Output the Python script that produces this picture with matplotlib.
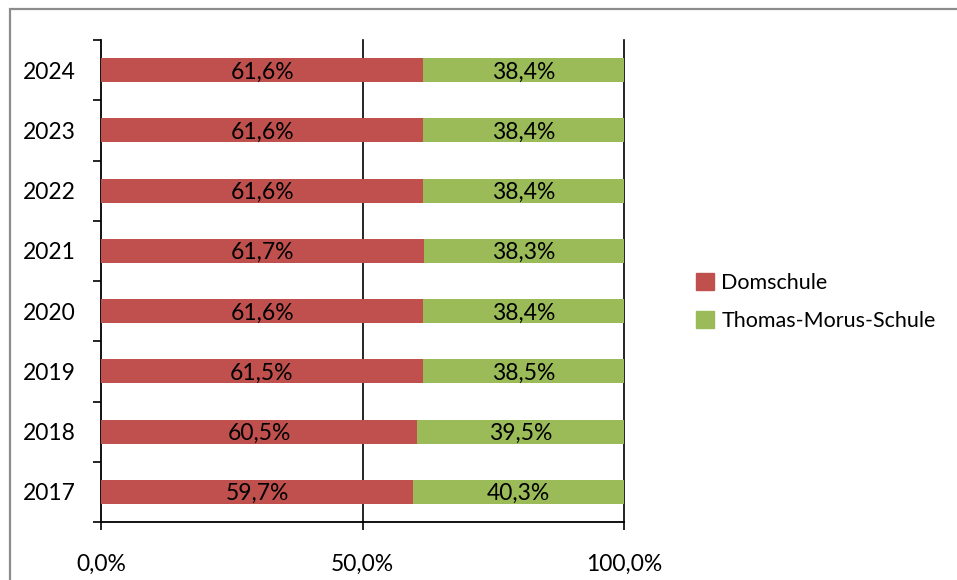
import matplotlib
matplotlib.use("Agg")
import matplotlib.pyplot as plt
from matplotlib.patches import Rectangle, Patch
import numpy as np

years = ["2017", "2018", "2019", "2020", "2021", "2022", "2023", "2024"]
domschule = [59.7, 60.5, 61.5, 61.6, 61.7, 61.6, 61.6, 61.6]
thomas = [40.3, 39.5, 38.5, 38.4, 38.3, 38.4, 38.4, 38.4]
series_names = ["Domschule", "Thomas-Morus-Schule"]
x_ticks = [0, 50, 100]
x_labels = ["0,0%", "50,0%", "100,0%"]

RED = "#C0504D"
GREEN = "#9BBB59"
plt.rcParams['font.family'] = ['Lato', 'DejaVu Sans']

fig = plt.figure(figsize=(9.57, 5.8), dpi=100)
ax = fig.add_axes([101/957, 1-522/580, (624-101)/957, (522-40)/580])

y = np.arange(len(years))
h = 0.4
ax.barh(y, domschule, height=h, color=RED, zorder=3)
ax.barh(y, thomas, left=domschule, height=h, color=GREEN, zorder=3)

fs = 16.5
for i in range(len(years)):
    ax.text(domschule[i]/2, y[i] - 0.03, f"{domschule[i]:.1f}%".replace(".", ","),
            ha="center", va="center", fontsize=fs, zorder=4)
    ax.text(domschule[i] + thomas[i]/2, y[i] - 0.03, f"{thomas[i]:.1f}%".replace(".", ","),
            ha="center", va="center", fontsize=fs, zorder=4)

ax.set_xlim(0, 100)
ax.set_ylim(-0.5, len(years)-0.5)
ax.set_xticks(x_ticks)
ax.set_xticklabels(x_labels, fontsize=fs)
for xv in x_ticks[1:]:
    ax.axvline(xv, color="black", lw=1.2, zorder=2, clip_on=False)

ax.set_yticks(np.arange(-0.5, len(years), 1.0))
ax.set_yticklabels([])
ax.set_yticks(y, minor=True)
ax.set_yticklabels(years, minor=True, fontsize=fs)
ax.tick_params(axis="y", which="major", length=6, width=1.2, direction="out")
ax.tick_params(axis="y", which="minor", length=0, pad=18.5)
ax.tick_params(axis="x", which="major", length=6, width=1.2, direction="out", pad=17)

for s in ["top", "right"]:
    ax.spines[s].set_visible(False)
ax.spines["left"].set_linewidth(1.3)
ax.spines["bottom"].set_linewidth(1.3)

handles = [Patch(color=RED), Patch(color=GREEN)]
fig.legend(handles, series_names, loc="center left", bbox_to_anchor=(677/957, 1-302/580),
           frameon=False, fontsize=15.5, handlelength=0.8, handleheight=0.8,
           labelspacing=0.85, handletextpad=0.35)

border = Rectangle((10/957, -0.1), 1.0, 1-9/580+0.1, transform=fig.transFigure,
                   fill=False, edgecolor="#8c8c8c", lw=1.6, clip_on=False)
fig.patches.append(border)

fig.savefig("out.png", dpi=100)
